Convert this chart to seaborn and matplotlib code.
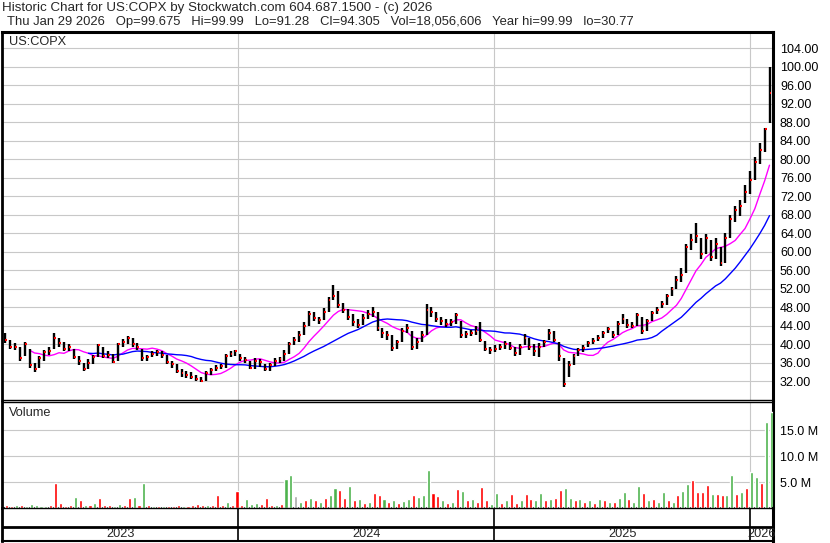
import pandas as pd
import numpy as np
import matplotlib
matplotlib.use('Agg')
import matplotlib.pyplot as plt
import seaborn as sns

# weekly bars (last bar is Thu Jan 29 2026)
week_close = [41.0, 39.5, 39.5, 37.0, 40.0, 35.5, 34.6, 37.0, 38.3, 38.5,
              41.5, 40.3, 39.0, 39.5, 37.2, 36.5, 34.8, 36.0, 37.3, 39.8,
              37.5, 37.8, 36.3, 40.0, 40.5, 41.3, 40.0, 39.5, 37.0, 37.3,
              38.0, 38.3, 37.8, 36.3, 35.8, 34.3, 33.8, 33.5, 33.0, 32.5,
              32.2, 33.8, 34.5, 35.0, 35.3, 37.5, 38.0, 38.5, 37.0, 36.6,
              35.0, 36.5, 36.2, 34.8, 35.5, 36.5, 36.8, 38.0, 40.0, 41.0,
              42.0, 44.0, 46.5, 45.8, 45.3, 47.0, 49.5, 50.5, 48.5, 47.5,
              46.0, 44.8, 44.3, 45.8, 46.5, 47.0, 43.5, 42.5, 42.0, 39.3,
              40.5, 43.0, 43.5, 39.5, 40.5, 42.0, 47.5, 47.0, 45.5, 45.0,
              44.5, 44.8, 46.3, 42.0, 42.3, 42.5, 43.0, 41.0, 39.0, 38.8,
              39.0, 39.5, 40.0, 39.3, 38.2, 39.5, 41.5, 39.5, 38.5, 39.5,
              40.5, 42.5, 41.0, 37.5, 31.5, 35.5, 37.5, 38.8, 39.2, 40.3,
              40.8, 41.5, 42.5, 43.3, 42.0, 44.5, 45.5, 44.3, 44.0, 46.3,
              43.0, 45.0, 46.8, 47.5, 48.8, 50.5, 52.0, 54.0, 55.0, 61.0,
              62.5, 63.5, 59.5, 63.0, 59.0, 61.8, 57.5, 63.0, 67.0, 69.0,
              70.0, 73.0, 75.5, 79.5, 82.0, 86.5, 94.3]

week_high = [42.4, 41.0, 40.3, 39.5, 40.5, 39.0, 36.0, 37.5, 38.8, 39.5,
             42.4, 41.5, 40.5, 40.2, 39.0, 37.5, 36.0, 36.8, 37.8, 40.2,
             39.5, 38.5, 38.0, 40.3, 41.2, 41.8, 41.3, 40.3, 39.0, 37.8,
             38.6, 38.8, 38.5, 37.8, 36.5, 35.8, 34.8, 34.3, 34.0, 33.5,
             33.0, 34.2, 35.0, 35.5, 35.8, 38.0, 38.6, 38.9, 38.0, 37.3,
             36.5, 37.0, 36.8, 35.8, 36.0, 37.0, 37.2, 38.8, 40.5, 41.6,
             42.8, 44.8, 47.2, 47.0, 46.0, 47.8, 50.2, 52.8, 51.5, 49.0,
             47.6, 46.5, 45.5, 46.5, 47.5, 48.0, 47.0, 43.5, 43.0, 42.0,
             41.0, 43.5, 44.5, 43.0, 41.5, 42.8, 48.8, 48.0, 47.0, 46.0,
             45.5, 45.6, 46.8, 45.0, 43.0, 43.2, 44.0, 44.8, 40.8, 39.5,
             39.8, 40.2, 40.8, 40.5, 39.5, 40.0, 42.3, 41.5, 40.0, 40.3,
             41.0, 43.3, 43.0, 40.5, 37.0, 36.5, 38.0, 39.3, 39.8, 40.8,
             41.5, 42.0, 43.0, 43.8, 43.0, 45.0, 46.5, 45.5, 44.8, 46.8,
             46.0, 45.5, 47.3, 48.0, 49.3, 51.0, 52.5, 54.8, 56.5, 61.8,
             63.8, 66.2, 63.0, 63.8, 62.5, 63.0, 61.0, 64.0, 68.0, 70.0,
             71.2, 74.5, 77.5, 80.5, 83.5, 86.8, 99.99]

week_low = [40.3, 39.0, 38.8, 36.5, 37.5, 35.0, 34.1, 35.0, 36.5, 37.8,
            39.0, 39.5, 38.5, 38.6, 36.8, 35.5, 34.2, 34.8, 35.8, 37.2,
            37.0, 37.0, 36.0, 36.5, 39.5, 40.0, 39.5, 38.8, 36.5, 36.5,
            37.2, 37.5, 37.0, 35.7, 35.0, 33.8, 33.0, 32.8, 32.5, 32.0,
            31.8, 32.0, 33.5, 34.2, 34.6, 35.0, 37.2, 37.5, 36.5, 36.0,
            34.6, 34.8, 35.2, 34.2, 34.2, 35.3, 36.0, 36.5, 38.0, 39.8,
            40.5, 42.0, 44.0, 45.0, 44.5, 45.2, 47.0, 49.5, 47.8, 46.8,
            45.3, 44.0, 43.5, 44.3, 45.5, 46.0, 43.0, 41.5, 41.0, 38.5,
            39.0, 40.5, 42.5, 38.8, 39.0, 40.5, 42.0, 46.0, 44.8, 44.3,
            43.8, 44.0, 44.5, 41.3, 41.5, 41.8, 42.0, 40.5, 38.5, 38.0,
            38.3, 38.8, 39.0, 38.8, 37.5, 37.8, 39.8, 38.8, 37.5, 37.3,
            39.5, 41.0, 40.5, 36.5, 30.77, 33.0, 35.5, 37.5, 38.3, 39.5,
            40.0, 40.8, 41.5, 42.5, 41.5, 42.0, 44.5, 43.5, 43.5, 44.0,
            42.2, 43.0, 45.0, 46.5, 47.8, 48.5, 50.5, 52.0, 53.5, 55.5,
            60.5, 62.0, 58.5, 59.5, 58.0, 58.5, 56.9, 57.5, 63.0, 66.5,
            67.8, 70.5, 72.5, 75.5, 79.0, 81.5, 87.8]

# volume in millions, one bar per week
week_vol = [0.6, 0.4, 0.5, 0.6, 0.4, 0.8, 0.6, 0.4, 0.4, 0.5,
            4.8, 1.0, 0.4, 0.5, 2.1, 1.5, 0.6, 0.5, 1.0, 1.9,
            0.5, 0.6, 0.4, 0.8, 0.6, 1.9, 2.1, 0.5, 4.8, 0.5,
            0.4, 0.4, 0.4, 0.3, 0.4, 0.5, 0.4, 0.4, 0.5, 0.8,
            0.6, 0.5, 0.5, 2.5, 0.6, 1.2, 0.5, 3.2, 0.5, 1.8,
            0.8, 1.0, 0.8, 1.9, 0.6, 0.5, 0.7, 5.5, 6.3, 2.4,
            1.2, 1.5, 2.0, 1.5, 1.2, 2.0, 2.5, 3.8, 3.4, 2.0,
            4.2, 1.5, 1.8, 1.0, 1.2, 2.9, 2.5, 1.8, 1.2, 1.5,
            1.0, 1.3, 1.8, 2.5, 2.2, 2.5, 7.4, 2.9, 2.4, 1.5,
            1.0, 1.2, 3.6, 3.3, 1.5, 1.8, 1.2, 4.0, 1.5, 0.8,
            2.9, 1.0, 1.5, 2.6, 1.0, 1.5, 2.7, 1.8, 1.5, 2.9,
            1.5, 1.8, 2.0, 3.4, 3.8, 2.0, 1.5, 1.8, 1.2, 1.5,
            1.0, 1.8, 1.5, 1.2, 1.2, 2.0, 3.0, 1.8, 1.2, 4.2,
            2.9, 1.5, 1.8, 1.2, 3.0, 1.5, 1.2, 2.5, 3.3, 4.7,
            5.3, 3.0, 3.0, 4.5, 2.7, 2.7, 2.5, 2.5, 6.3, 2.7,
            3.0, 3.8, 6.9, 6.0, 4.8, 16.5, 18.5]

# g = up, r = down, n = unchanged
vol_color = ("rrgrgggggr" "rrrrgrgrgr" "rrggrrgrgr" "grgrrrgrrr" "rgrrrgrrrg"
             "ggrrrgrggn" "grgrgrggrr" "grgrgrrgrg" "rggrgggrrg" "rgrgrgrrrg"
             "grgrrgrrgg" "rgrrggrgrg" "rgrgrggrgg" "rgrggrgrgg" "rrrrgrrggr"
             "grggrgg")

year_labels = ['2023', '2024', '2025', '2026']
price_ticks = list(range(32, 105, 4))
vol_ticks = [5, 10, 15]

header_1 = 'Historic Chart for US:COPX by Stockwatch.com 604.687.1500 - (c) 2026'
header_2 = ('Thu Jan 29 2026   Op=99.675   Hi=99.99   Lo=91.28   Cl=94.305   '
            'Vol=18,056,606   Year hi=99.99   lo=30.77')

# build the frame
dates = pd.date_range(end='2026-01-29', periods=len(week_close), freq='7D')
df = pd.DataFrame({'date': dates, 'close': week_close, 'high': week_high,
                   'low': week_low, 'vol': week_vol, 'vcol': list(vol_color)})
df['ma_fast'] = df['close'].rolling(8, min_periods=6).mean()
df['ma_slow'] = df['close'].rolling(20, min_periods=18).mean()

sns.set_style('white')
plt.rcParams['font.family'] = ['Liberation Sans', 'DejaVu Sans']

W, H = 830, 543
fig = plt.figure(figsize=(W / 100, H / 100), dpi=100, facecolor='white')


def rect(x0, y0, x1, y1):
    return [x0 / W, 1 - y1 / H, (x1 - x0) / W, (y1 - y0) / H]


x_lo = pd.Timestamp('2023-01-28 12:00')
x_hi = pd.Timestamp('2026-02-03')
year_starts = [pd.Timestamp('2024-01-01'), pd.Timestamp('2025-01-01'), pd.Timestamp('2026-01-01')]
grid_col = '#c8c8c8'

# ---- price panel ----
ax = fig.add_axes(rect(2, 32, 773, 400))
ax.set_xlim(x_lo, x_hi)
ax.set_ylim(28.0, 107.5)
ax.set_yticks(price_ticks)
ax.set_yticklabels([f'{t:.2f}' for t in price_ticks])
ax.grid(axis='y', color=grid_col, lw=0.8)
for d in year_starts:
    ax.axvline(d, color=grid_col, lw=0.8, zorder=0)

ax.vlines(df['date'], df['low'], df['high'], color='black', lw=1.7, zorder=3)
ax.hlines(df['close'], df['date'], df['date'] + pd.Timedelta(days=2.8),
          color='red', lw=1.5, zorder=4)
sns.lineplot(data=df, x='date', y='ma_fast', ax=ax, color='#ff00ff', lw=1, zorder=2)
sns.lineplot(data=df, x='date', y='ma_slow', ax=ax, color='#0000ff', lw=1, zorder=2)

ax.text(7 / 771, 1 - 10 / 368, 'US:COPX', transform=ax.transAxes,
        fontsize=9.2, va='center', ha='left')

# ---- volume panel ----
axv = fig.add_axes(rect(2, 402, 773, 508))
axv.set_xlim(x_lo, x_hi)
axv.set_ylim(0, 20.4)
axv.set_yticks(vol_ticks)
axv.set_yticklabels([f'{t:.1f} M' for t in vol_ticks])
axv.grid(axis='y', color=grid_col, lw=0.8)
for d in year_starts:
    axv.axvline(d, color=grid_col, lw=0.8, zorder=0)
cmap = {'g': '#4db34d', 'r': '#ff0000', 'n': '#a8a8a8'}
axv.bar(df['date'], df['vol'], width=4.4, color=[cmap[c] for c in df['vcol']],
        align='edge', zorder=3)
axv.text(7 / 771, 1 - 11 / 106, 'Volume', transform=axv.transAxes,
         fontsize=9.2, va='center', ha='left')

# ---- date strip ----
axd = fig.add_axes(rect(2, 508, 773, 541))
axd.set_xlim(x_lo, x_hi)
axd.set_ylim(0, 1)
axd.axhline(14 / 33, color='black', lw=2)
for d in year_starts:
    axd.axvline(d, color='black', lw=1.2)
bounds = [x_lo] + year_starts + [x_hi]
for i, lab in enumerate(year_labels):
    mid = bounds[i] + (bounds[i + 1] - bounds[i]) / 2
    axd.text(mid, 7 / 33, lab, ha='center', va='center', fontsize=9.2)
axd.set_xticks([])
axd.set_yticks([])

for a in (ax, axv):
    a.set_xlabel('')
    a.set_ylabel('')
    a.set_xticks([])
    a.yaxis.tick_right()
    a.tick_params(axis='y', length=0, pad=5, labelsize=9, labelcolor='black')
for a in (ax, axv, axd):
    for s in a.spines.values():
        s.set_color('black')
        s.set_linewidth(1)
    a.spines['left'].set_linewidth(2)
    a.spines['right'].set_linewidth(2.2)
ax.spines['top'].set_linewidth(2.2)
axv.spines['bottom'].set_linewidth(2)
axd.spines['bottom'].set_linewidth(1.5)

# header
fig.text(2 / W, 1 - 2 / H, header_1, fontsize=9.6, va='top', ha='left')
fig.text(7 / W, 1 - 16 / H, header_2, fontsize=9.4, va='top', ha='left')

fig.savefig('out.png', dpi=100, facecolor='white')
